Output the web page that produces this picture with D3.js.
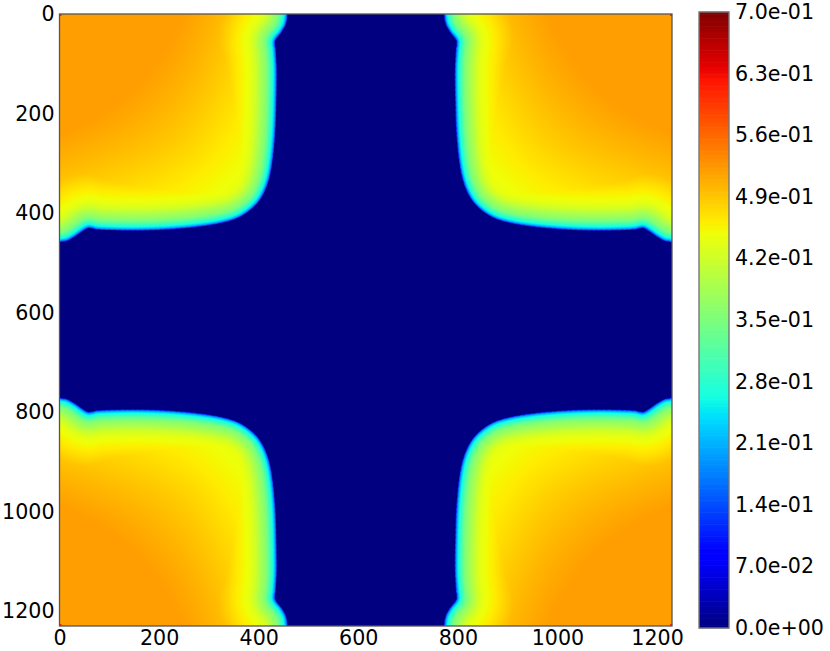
<!DOCTYPE html>
<html>
<head>
<meta charset="utf-8">
<script src="https://cdn.jsdelivr.net/npm/d3@7/dist/d3.min.js"></script>
<style>
html,body{margin:0;padding:0;background:#fff;}
svg{display:block;}
text{font-family:"DejaVu Sans",sans-serif;fill:#000;}
</style>
</head>
<body>
<svg id="chart" width="830" height="651"></svg>
<script>
// ---- data ----
const domainMax = 1230;
const axisTicks = [0,200,400,600,800,1000,1200];
const colorTickValues = [0,0.07,0.14,0.21,0.28,0.35,0.42,0.49,0.56,0.63,0.70];
const colorTickLabels = ["0.0e+00","7.0e-02","1.4e-01","2.1e-01","2.8e-01","3.5e-01","4.2e-01","4.9e-01","5.6e-01","6.3e-01","7.0e-01"];

// boundary of the warm region in the top-left quadrant (other quadrants mirror it)
const boundaryX = [458,455,446,433,434,436,435.5,433,428,422,413,400,383,360,329,282,215,148,95,75,58,45,31,14,0];
const boundaryY = [0,19,36,54,72,106,173,240,293,327,354,377,394,409,419,427,433,435,434,433,430,437,447,456,458];

// coarse field inside the quadrant
const gridCoords = [0,100,200,300,400,500];
const gridValues = [
  [0.560,0.545,0.530,0.510,0.470,0.450],
  [0.550,0.535,0.520,0.500,0.460,0.440],
  [0.530,0.520,0.505,0.485,0.450,0.430],
  [0.505,0.495,0.485,0.465,0.440,0.430],
  [0.470,0.460,0.450,0.440,0.430,0.420],
  [0.450,0.440,0.430,0.420,0.420,0.420]
];
// value against distance from the boundary
const edgeDistance = [0,3,6,19,42,52,86,140];
const edgeValue = [0.10,0.20,0.25,0.35,0.42,0.44,0.47,0.52];

// jet colour map channels
const jetRedT = [0,0.35,0.66,0.89,1], jetRedV = [0,0,1,1,0.5];
const jetGreenT = [0,0.125,0.375,0.64,0.91,1], jetGreenV = [0,0,1,1,0,0];
const jetBlueT = [0,0.11,0.34,0.65,1], jetBlueV = [0.5,1,1,0,0];

// ---- scales ----
const vMax = 0.7;
const x = d3.scaleLinear().domain([0,domainMax]).range([59.5,672]);
const y = d3.scaleLinear().domain([0,domainMax]).range([14,626]);
const tScale = d3.scaleLinear().domain([0,vMax]).range([0,1]).clamp(true);
const rS = d3.scaleLinear().domain(jetRedT).range(jetRedV).clamp(true);
const gS = d3.scaleLinear().domain(jetGreenT).range(jetGreenV).clamp(true);
const bS = d3.scaleLinear().domain(jetBlueT).range(jetBlueV).clamp(true);
const jet = v => { const t = tScale(v); return [rS(t)*255,gS(t)*255,bS(t)*255]; };
const edgeScale = d3.scaleLinear().domain(edgeDistance).range(edgeValue).clamp(true);

const svg = d3.select("#chart");
const boundary = boundaryX.map((d,i)=>[d,boundaryY[i]]);

// quadrant outline through the boundary, in data units
const dataLine = d3.line().curve(d3.curveCatmullRom.alpha(0.5));
const probe = svg.append("path").attr("d",dataLine(boundary)).attr("fill","none");
const node = probe.node(), total = node.getTotalLength();
const samples = d3.range(0,total,2.5).map(l=>{const p=node.getPointAtLength(l);return [p.x,p.y];});
probe.remove();

// ---- raster ----
const W = 612, H = 612;
const canvas = document.createElement("canvas");
canvas.width = W; canvas.height = H;
const ctx = canvas.getContext("2d");
const img = ctx.createImageData(W,H);
const pxScale = d3.scaleLinear().domain([0,W]).range([0,domainMax]);
const rowSpl = gridValues.map(r=>d3.interpolateBasis(r));
const gridMax = gridCoords[gridCoords.length-1];
const half = W/2;
for(let j=0;j<half;j++){
  const dy = pxScale(j+0.5);
  for(let i=0;i<half;i++){
    const dx = pxScale(i+0.5);
    const colSpl = d3.interpolateBasis(rowSpl.map(f=>f(Math.min(dx/gridMax,1))));
    const base = colSpl(Math.min(dy/gridMax,1));
    let m = 1e12;
    for(const s of samples){
      const a=s[0]-dx,b=s[1]-dy,c=a*a+b*b;
      if(c<m)m=c;
    }
    let v = Math.min(base, edgeScale(Math.sqrt(m)));
    if(i<2&&j<2) v = 0.61;
    const col = jet(v);
    for(const [ii,jj] of [[i,j],[W-1-i,j],[i,H-1-j],[W-1-i,H-1-j]]){
      const o=(jj*W+ii)*4;
      img.data[o]=col[0];img.data[o+1]=col[1];img.data[o+2]=col[2];img.data[o+3]=255;
    }
  }
}
ctx.putImageData(img,0,0);

// ---- plot ----
const navy = d3.rgb(...jet(0));
const flip = d => domainMax - d;
const quadrants = [[d=>d,d=>d],[flip,d=>d],[d=>d,flip],[flip,flip]];
const screenLine = d3.line().curve(d3.curveCatmullRom.alpha(0.5));
const defs = svg.append("defs");
const clip = defs.append("clipPath").attr("id","warm");
quadrants.forEach(([fx,fy])=>{
  const pts = boundary.map(p=>[x(fx(p[0])),y(fy(p[1]))]);
  const cx = x(fx(0)), cy = y(fy(0));
  clip.append("path").attr("d",screenLine(pts)+`L${cx},${cy}Z`);
});
svg.append("rect")
  .attr("x",x(0)).attr("y",y(0))
  .attr("width",x(domainMax)-x(0)).attr("height",y(domainMax)-y(0))
  .attr("fill",navy.formatHex());
svg.append("image")
  .attr("href",canvas.toDataURL())
  .attr("x",x(0)).attr("y",y(0))
  .attr("width",x(domainMax)-x(0)).attr("height",y(domainMax)-y(0))
  .attr("preserveAspectRatio","none")
  .attr("clip-path","url(#warm)");
svg.append("rect")
  .attr("x",x(0)).attr("y",y(0))
  .attr("width",x(domainMax)-x(0)).attr("height",y(domainMax)-y(0))
  .attr("fill","none").attr("stroke","#555").attr("stroke-width",1.3);

const fs = "20.6px";
const ax = g => { g.select(".domain").remove(); g.selectAll("line").remove(); g.selectAll("text").style("font-size",fs).attr("font-family",null); };
svg.append("g").attr("transform",`translate(${x(0)},0)`)
  .call(d3.axisLeft(y).tickValues(axisTicks).tickSize(0).tickPadding(5).tickFormat(d3.format("d")))
  .call(ax);
svg.append("g").attr("transform",`translate(0,${y(domainMax)})`)
  .call(d3.axisBottom(x).tickValues(axisTicks).tickSize(0).tickPadding(4).tickFormat(d3.format("d")))
  .call(ax);

// ---- colour bar ----
const cbar = d3.scaleLinear().domain([0,vMax]).range([628,12]);
const levels = d3.range(256).map(i=>i/256*vMax);
const cbarX = 699, cbarW = 30;
svg.append("g").selectAll("rect").data(levels).join("rect")
  .attr("x",cbarX).attr("width",cbarW)
  .attr("y",d=>cbar(d+vMax/256)-0.3)
  .attr("height",cbar(0)-cbar(vMax/256)+0.6)
  .attr("fill",d=>{const c=jet(d+vMax/512);return d3.rgb(c[0],c[1],c[2]).formatHex();});
svg.append("rect")
  .attr("x",cbarX).attr("y",cbar(vMax))
  .attr("width",cbarW).attr("height",cbar(0)-cbar(vMax))
  .attr("fill","none").attr("stroke","#777").attr("stroke-width",1.4);
svg.append("g").attr("transform",`translate(${cbarX+cbarW},0)`)
  .call(d3.axisRight(cbar).tickValues(colorTickValues).tickSize(0).tickPadding(6)
    .tickFormat((d,i)=>colorTickLabels[i]))
  .call(ax);
</script>
</body>
</html>
